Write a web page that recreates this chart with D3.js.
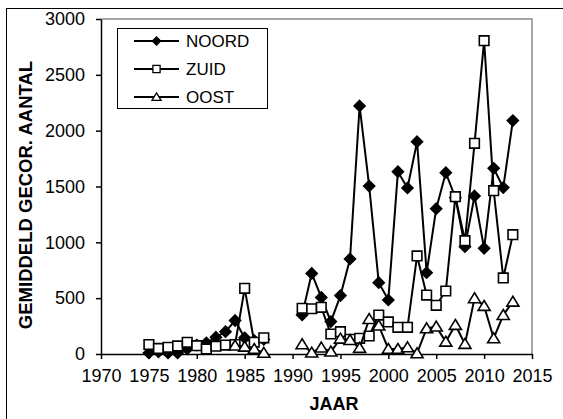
<!DOCTYPE html>
<html>
<head>
<meta charset="utf-8">
<script src="https://cdn.jsdelivr.net/npm/d3@7"></script>
<style>
  body { margin: 0; background: #fff; }
  svg { display: block; font-family: Arial, "Liberation Sans", sans-serif; }
</style>
</head>
<body>
<svg width="563" height="419"></svg>
<script>
// jaren 1975-2013, 1988-1990 ontbreken (null)
var years = [1975,1976,1977,1978,1979,1980,1981,1982,1983,1984,1985,1986,1987,1988,1989,1990,
             1991,1992,1993,1994,1995,1996,1997,1998,1999,2000,2001,2002,2003,2004,2005,2006,
             2007,2008,2009,2010,2011,2012,2013];
var noord = [10,20,10,10,45,80,100,150,200,300,145,120,130,null,null,null,
             350,722,507,290,523,851,2221,1504,639,484,1633,1487,1901,728,1301,1624,
             1400,961,1415,946,1663,1490,2090];
var zuid  = [85,50,60,72,105,75,45,70,80,85,588,105,145,null,null,null,
             409,405,418,179,200,131,140,161,349,287,239,239,878,528,436,564,
             1409,1015,1887,2806,1463,681,1069];
var oost  = [null,null,null,null,null,null,null,null,null,75,65,45,10,null,null,null,
             87,12,57,21,137,125,54,313,254,45,45,60,6,230,245,110,
             260,90,499,430,140,349,468];
var seriesNames = ["NOORD", "ZUID", "OOST"];
var yTicks = [0, 500, 1000, 1500, 2000, 2500, 3000];
var xTicks = [1970, 1975, 1980, 1985, 1990, 1995, 2000, 2005, 2010, 2015];

var svg = d3.select("svg");

// buitenrand van de grafiek
svg.append("rect")
    .attr("x", 6.5).attr("y", 8.5)
    .attr("width", 620).attr("height", 500)
    .attr("fill", "none").attr("stroke", "#000").attr("stroke-width", 1);

var x = d3.scaleLinear().domain([1970, 2015]).range([101, 532]);
var y = d3.scaleLinear().domain([0, 3000]).range([354, 19]);

// grijze rand plotgebied (boven en rechts)
svg.append("path")
    .attr("d", "M" + x(1970) + "," + y(3000) + "H" + x(2015) + "V" + y(0))
    .attr("fill", "none").attr("stroke", "#8a8a8a").attr("stroke-width", 1.5);

var yAxis = svg.append("g")
    .attr("transform", "translate(" + x(1970) + ",0)")
    .call(d3.axisLeft(y).tickValues(yTicks).tickFormat(d3.format("d"))
      .tickSize(5).tickSizeOuter(0).tickPadding(11));

var xAxis = svg.append("g")
    .attr("transform", "translate(0," + y(0) + ")")
    .call(d3.axisBottom(x).tickValues(xTicks).tickFormat(d3.format("d"))
      .tickSize(5).tickSizeOuter(0).tickPadding(10));

[yAxis, xAxis].forEach(function(a) {
  a.selectAll("path, line").attr("stroke", "#000").attr("stroke-width", 1.5);
  a.selectAll("text").attr("font-size", 18).attr("fill", "#000")
      .attr("font-family", "Arial, 'Liberation Sans', sans-serif");
});

svg.append("text")
    .attr("x", 334).attr("y", 410)
    .attr("text-anchor", "middle")
    .attr("font-size", 18).attr("font-weight", "bold")
    .text("JAAR");

svg.append("text")
    .attr("transform", "translate(32,195) rotate(-90)")
    .attr("text-anchor", "middle")
    .attr("font-size", 18.5).attr("font-weight", "bold")
    .text("GEMIDDELD GECOR. AANTAL");

// markers
function diamond(s) { return "M0," + (-s) + "L" + s + ",0L0," + s + "L" + (-s) + ",0Z"; }
function square(s) { return "M" + (-s) + "," + (-s) + "H" + s + "V" + s + "H" + (-s) + "Z"; }
function triangle(s) { return "M0," + (-s) + "L" + (s * 1.1) + "," + (s * 0.8) + "H" + (-s * 1.1) + "Z"; }

var series = [
  { name: seriesNames[0], values: noord, shape: diamond, size: 5.5, fill: "#000" },
  { name: seriesNames[1], values: zuid,  shape: square,  size: 4.8, fill: "#fff" },
  { name: seriesNames[2], values: oost,  shape: triangle,size: 5.5, fill: "#fff" }
];

var line = d3.line()
    .defined(function(d) { return d[1] != null; })
    .x(function(d) { return x(d[0]); })
    .y(function(d) { return y(d[1]); });

series.forEach(function(s) {
  var pts = years.map(function(yr, i) { return [yr, s.values[i]]; });
  svg.append("path")
      .datum(pts)
      .attr("d", line)
      .attr("fill", "none").attr("stroke", "#000").attr("stroke-width", 2);
  svg.append("g").selectAll("path")
    .data(pts.filter(function(d) { return d[1] != null; }))
    .enter().append("path")
      .attr("transform", function(d) { return "translate(" + x(d[0]) + "," + y(d[1]) + ")"; })
      .attr("d", s.shape(s.size))
      .attr("fill", s.fill).attr("stroke", "#000").attr("stroke-width", 1.6);
});

// legenda
var lg = svg.append("g");
lg.append("rect")
    .attr("x", 117.5).attr("y", 28.5).attr("width", 150).attr("height", 80)
    .attr("fill", "#fff").attr("stroke", "#000").attr("stroke-width", 1);
var rowY = [41, 69, 97];
series.forEach(function(s, i) {
  lg.append("line")
      .attr("x1", 134).attr("x2", 179).attr("y1", rowY[i]).attr("y2", rowY[i])
      .attr("stroke", "#000").attr("stroke-width", 2);
  lg.append("path")
      .attr("transform", "translate(156.5," + rowY[i] + ")")
      .attr("d", s.shape(s.size * 0.75))
      .attr("fill", s.fill).attr("stroke", "#000").attr("stroke-width", 1.3);
  lg.append("text")
      .attr("x", 186).attr("y", rowY[i]).attr("dy", "0.36em")
      .attr("font-size", 17)
      .text(s.name);
});
</script>
</body>
</html>
